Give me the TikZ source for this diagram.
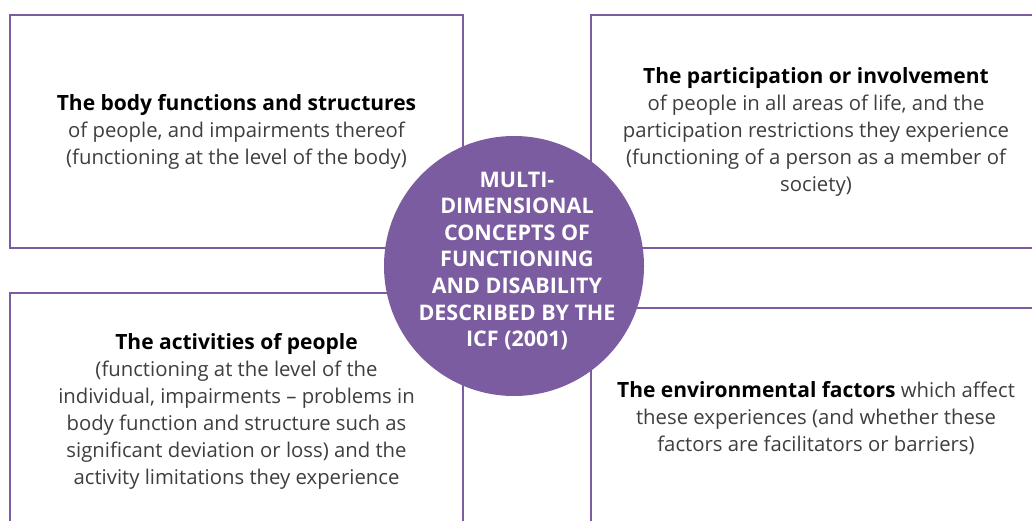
\documentclass[tikz,border=0pt]{standalone}
\usepackage{fontspec}
\setmainfont{Open Sans}
\usepackage{tikz}
\usetikzlibrary{positioning}

\definecolor{icfpurple}{RGB}{123,92,160}
\definecolor{bodygrey}{RGB}{62,62,62}

\tikzset{
  panel/.style={draw=icfpurple, line width=1.3pt, fill=white,
    inner sep=0pt, align=center, text=bodygrey,
    font=\fontsize{20.3}{27}\selectfont},
  hub/.style={circle, fill=icfpurple, minimum size=260pt, inner sep=0pt},
  hubtext/.style={align=center, text=white,
    font=\fontsize{21.5}{26.6}\selectfont\bfseries},
}
\newcommand{\headline}[1]{{\color{black}\fontsize{21}{27}\selectfont\bfseries #1}}

\begin{document}
\begin{tikzpicture}[x=1pt,y=-1pt]

\clip (0,0) rectangle (1032,521);

% Four panels
\node[panel, minimum width=453pt, minimum height=233pt] (body) at (236.5,131.5)
{\headline{The body functions and structures}\\
 of people, and impairments thereof\\
 (functioning at the level of the body)};

\node[panel, minimum width=450pt, minimum height=233pt] (participation) at (816,131.5)
{\headline{The participation or involvement}\\
 of people in all areas of life, and the\\
 participation restrictions they experience\\
 (functioning of a person as a member of\\
 society)};

\node[panel, minimum width=453pt, minimum height=237pt] (activities) at (236.5,411.5)
{\headline{The activities of people}\\
 (functioning at the level of the\\
 individual, impairments -- problems in\\
 body function and structure such as\\
 significant deviation or loss) and the\\
 activity limitations they experience};

\node[panel, minimum width=450pt, minimum height=220pt] (environment) at (816,418)
{\headline{The environmental factors} which affect\\
 these experiences (and whether these\\
 factors are facilitators or barriers)};

% Central circle
\node[hub] (icf) at (514,266) {};
\node[hubtext] (icflabel) at (517,261)
{MULTI-\\ DIMENSIONAL\\ CONCEPTS OF\\ FUNCTIONING\\
 AND DISABILITY\\ DESCRIBED BY THE\\ ICF (2001)};

\end{tikzpicture}
\end{document}
